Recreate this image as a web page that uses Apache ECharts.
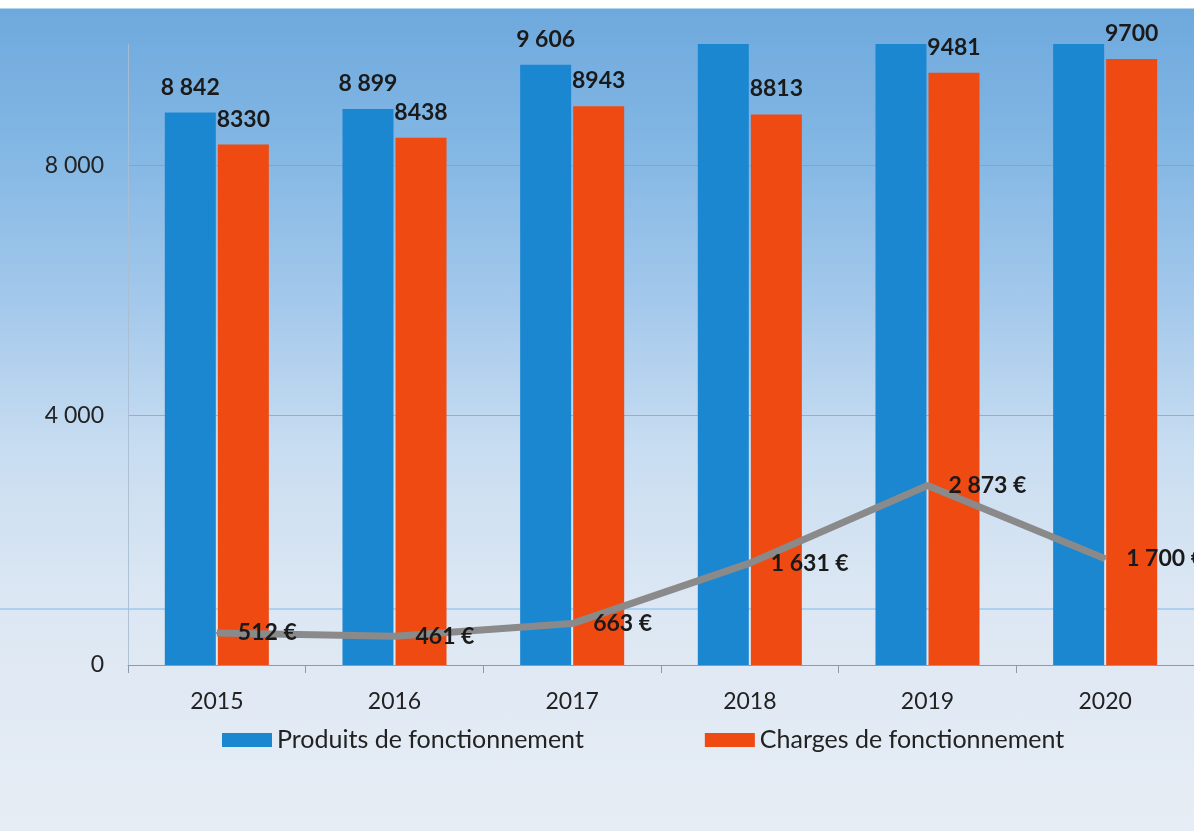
<!DOCTYPE html>
<html>
<head>
<meta charset="utf-8">
<script src="https://cdn.jsdelivr.net/npm/echarts@6/dist/echarts.min.js"></script>
<style>
  html, body { margin: 0; padding: 0; background: #fff; }
  #chart {
    width: 1194px;
    height: 831px;
    background: linear-gradient(to bottom,
      #ffffff 0px, #ffffff 8px,
      #6ea9dd 9px, #83b7e4 150px, #a3c8eb 300px,
      #c8ddf1 450px, #dce7f3 600px, #e7edf5 831px);
  }
</style>
</head>
<body>
<div id="chart"></div>
<script>
const years = ['2015', '2016', '2017', '2018', '2019', '2020']
const produits = [8842, 8899, 9606, 10444, 12354, 11400]
const charges = [8330, 8438, 8943, 8813, 9481, 9700]
const resultat = [512, 461, 663, 1631, 2873, 1700]
const Y_MAX = 9940
const Y_INTERVAL = 4000

function spaced(n) {
  return String(n).replace(/\B(?=(\d{3})+(?!\d))/g, ' ')
}

const labelFont = { fontFamily: 'Lato', fontWeight: 'bold', fontSize: 23, color: '#1a1a1a' }

const chart = echarts.init(document.getElementById('chart'), null, { renderer: 'canvas' })

chart.setOption({
  animation: false,
  backgroundColor: 'transparent',
  textStyle: { fontFamily: 'Lato' },
  grid: { left: 128, top: 44, width: 1080, bottom: 166 },
  legend: {
    data: ['Produits de fonctionnement', 'Charges de fonctionnement'],
    left: 222,
    top: 727,
    padding: 0,
    icon: 'rect',
    itemWidth: 50,
    itemHeight: 14,
    itemGap: 121,
    textStyle: { fontFamily: 'Lato', fontSize: 25, color: '#222', lineHeight: 26 },
  },
  graphic: [
    {
      type: 'line',
      shape: { x1: 0, y1: 609, x2: 1194, y2: 609 },
      style: { stroke: 'rgba(150,200,240,0.7)', lineWidth: 2 },
      z: 0,
    },
  ],
  xAxis: {
    type: 'category',
    data: years,
    axisLine: { lineStyle: { color: '#8e9aa6', width: 1 } },
    axisTick: { show: true, length: 8, lineStyle: { color: '#8e9aa6' } },
    axisLabel: { fontFamily: 'Lato', fontSize: 23, color: '#222', margin: 25 },
  },
  yAxis: {
    type: 'value',
    min: 0,
    max: Y_MAX,
    interval: Y_INTERVAL,
    axisLine: { show: true, lineStyle: { color: 'rgba(170,190,210,0.9)' } },
    axisTick: { show: false },
    axisLabel: {
      fontFamily: 'Lato',
      fontSize: 23,
      color: '#222',
      margin: 24,
      showMaxLabel: false,
      formatter: (v) => spaced(v),
    },
    splitLine: { showMaxLine: false, lineStyle: { color: 'rgba(140,155,170,0.7)', width: 1 } },
  },
  series: [
    {
      name: 'Produits de fonctionnement',
      type: 'bar',
      barWidth: 51,
      barGap: '4%',
      itemStyle: { color: '#1c87d1' },
      data: produits.map((v) => ({
        value: v,
        label: { show: v <= Y_MAX },
      })),
      label: {
        position: 'top',
        distance: 14,
        ...labelFont,
        formatter: (p) => spaced(p.value),
      },
    },
    {
      name: 'Charges de fonctionnement',
      type: 'bar',
      barWidth: 51,
      itemStyle: { color: '#ef4a12' },
      data: charges.map((v) => ({
        value: v,
        label: { show: v <= Y_MAX },
      })),
      label: {
        position: 'top',
        distance: 14,
        ...labelFont,
        formatter: (p) => String(p.value),
      },
    },
    {
      name: 'Résultat',
      type: 'line',
      z: 3,
      data: resultat,
      symbol: 'circle',
      symbolSize: 2,
      itemStyle: { color: '#8a8a8a' },
      lineStyle: { color: '#8a8a8a', width: 7 },
      label: {
        show: true,
        position: 'right',
        distance: 20,
        fontFamily: 'Lato',
        fontWeight: 'bold',
        fontSize: 23,
        color: '#1a1a1a',
        formatter: (p) => spaced(p.value) + ' €',
      },
    },
  ],
})
</script>
</body>
</html>
